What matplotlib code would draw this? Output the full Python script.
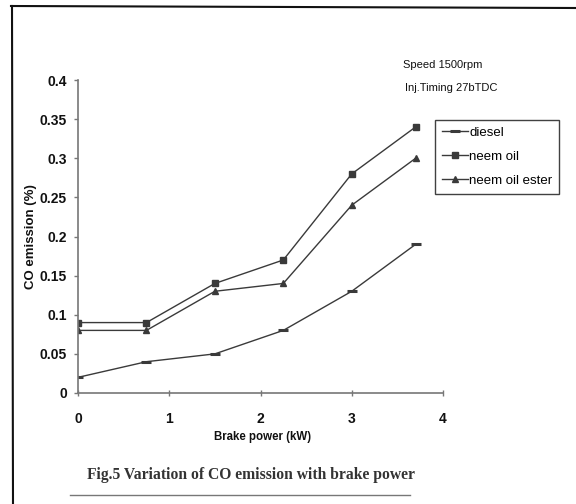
import matplotlib
matplotlib.use("Agg")
import matplotlib.pyplot as plt
from matplotlib.lines import Line2D

brake_power = [0, 0.75, 1.5, 2.25, 3.0, 3.7]
diesel = [0.02, 0.04, 0.05, 0.08, 0.13, 0.19]
neem_oil = [0.09, 0.09, 0.14, 0.17, 0.28, 0.34]
neem_oil_ester = [0.08, 0.08, 0.13, 0.14, 0.24, 0.30]
x_ticks = [0, 1, 2, 3, 4]
y_ticks = [0, 0.05, 0.1, 0.15, 0.2, 0.25, 0.3, 0.35, 0.4]
y_tick_labels = ["0", "0.05", "0.1", "0.15", "0.2", "0.25", "0.3", "0.35", "0.4"]

W, H = 576, 504
fig = plt.figure(figsize=(W / 100, H / 100), dpi=100)
fig.patch.set_facecolor("white")

ax = fig.add_axes([78 / W, 1 - 393 / H, (443 - 78) / W, (393 - 80) / H])
ax.set_facecolor("white")

lc = "#3a3a3a"
ax.plot(brake_power, diesel, color=lc, lw=1.0, marker="_", ms=7, mew=2.2, label="diesel")
ax.plot(brake_power, neem_oil, color=lc, lw=1.0, marker="s", ms=5, label="neem oil")
ax.plot(brake_power, neem_oil_ester, color=lc, lw=1.0, marker="^", ms=5, label="neem oil ester")

ax.set_xlim(0, 4)
ax.set_ylim(0, 0.4)
ax.set_xticks(x_ticks)
ax.set_yticks(y_ticks)
ax.set_yticklabels(y_tick_labels)
for s in ["top", "right"]:
    ax.spines[s].set_visible(False)
for s in ["left", "bottom"]:
    ax.spines[s].set_color("#777777")
    ax.spines[s].set_linewidth(1.2)
ax.tick_params(axis="y", direction="out", length=3, width=1, color="#777777", pad=5)
ax.tick_params(axis="x", direction="inout", length=4, width=1, color="#777777", pad=12)
for lab in ax.get_xticklabels() + ax.get_yticklabels():
    lab.set_fontfamily("Liberation Sans")
    lab.set_fontweight("bold")
    lab.set_fontsize(10)
    lab.set_color("#111111")

fig.text(31 / W, 1 - 237 / H, "CO emission (%)", rotation=90, ha="center", va="center",
         family="Liberation Sans", weight="bold", fontsize=9.5, color="#111111")
fig.text(263 / W, 1 - 437 / H, "Brake power (kW)", ha="center", va="center",
         family="Liberation Sans", weight="bold", fontsize=8.3, color="#111111")

fig.text(403 / W, 1 - 65 / H, "Speed 1500rpm", ha="left", va="center",
         family="Liberation Sans", fontsize=8, color="#111111")
fig.text(405 / W, 1 - 88 / H, "Inj.Timing 27bTDC", ha="left", va="center",
         family="Liberation Sans", fontsize=8, color="#111111")

leg = ax.legend(loc="upper left", bbox_to_anchor=(435 / W, 1 - 120 / H),
                bbox_transform=fig.transFigure, frameon=True, fancybox=False,
                prop={"family": "Liberation Sans", "size": 9.5}, handlelength=2.0,
                handletextpad=0.1, labelspacing=0.9, borderpad=0.5, borderaxespad=0)
leg.get_frame().set_edgecolor("#111111")
leg.get_frame().set_linewidth(1.0)

fig.text(87 / W, 1 - 475 / H, "Fig.5 Variation of CO emission with brake power", ha="left",
         va="center", family="Liberation Serif", weight="bold", fontsize=11.25, color="#333333")

fig.add_artist(Line2D([11 / W, 1.0], [1 - 6 / H, 1 - 8 / H], color="#111111", lw=1.5,
                      transform=fig.transFigure))
fig.add_artist(Line2D([12 / W, 13 / W], [1 - 6 / H, 0.0], color="#111111", lw=1.5,
                      transform=fig.transFigure))
fig.add_artist(Line2D([70 / W, 410 / W], [1 - 495 / H, 1 - 495 / H], color="#777777", lw=1.0,
                      transform=fig.transFigure))

fig.savefig("out.png", dpi=100, facecolor="white")
